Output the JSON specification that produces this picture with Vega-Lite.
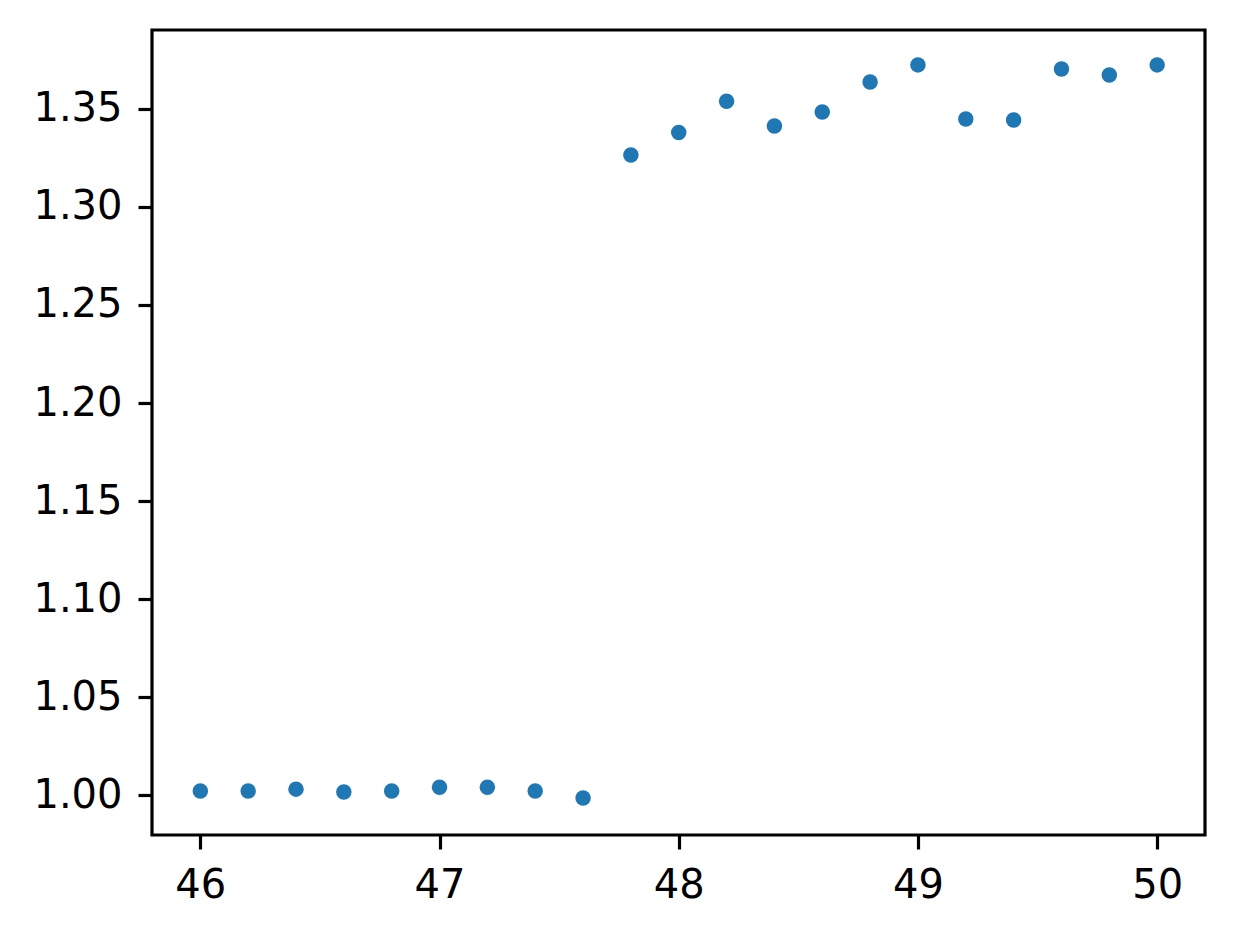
{
  "$schema": "https://vega.github.io/schema/vega-lite/v6.json",
  "autosize": "none",
  "padding": {"left": 152, "top": 30, "right": 29, "bottom": 99},
  "width": 1053,
  "height": 805,
  "background": "white",
  "config": {
    "view": {"stroke": "black", "strokeWidth": 3.2},
    "axis": {
      "domain": false,
      "grid": false,
      "ticks": true,
      "tickSize": 14,
      "tickWidth": 3.2,
      "tickColor": "black",
      "labelFont": "DejaVu Sans",
      "labelFontSize": 40,
      "labelColor": "black",
      "title": null
    }
  },
  "data": {
    "values": [
      {"x": 46.0, "y": 1.002},
      {"x": 46.2, "y": 1.002},
      {"x": 46.4, "y": 1.003},
      {"x": 46.6, "y": 1.0015},
      {"x": 46.8, "y": 1.002},
      {"x": 47.0, "y": 1.004},
      {"x": 47.2, "y": 1.004},
      {"x": 47.4, "y": 1.002},
      {"x": 47.6, "y": 0.9985},
      {"x": 47.8, "y": 1.3265},
      {"x": 48.0, "y": 1.338},
      {"x": 48.2, "y": 1.354},
      {"x": 48.4, "y": 1.3413},
      {"x": 48.6, "y": 1.3485},
      {"x": 48.8, "y": 1.3638},
      {"x": 49.0, "y": 1.3725},
      {"x": 49.2, "y": 1.3449},
      {"x": 49.4, "y": 1.3444},
      {"x": 49.6, "y": 1.3704},
      {"x": 49.8, "y": 1.3673},
      {"x": 50.0, "y": 1.3725}
    ]
  },
  "mark": {"type": "circle", "size": 240, "color": "#1f77b4", "opacity": 1},
  "encoding": {
    "x": {
      "field": "x",
      "type": "quantitative",
      "scale": {"domain": [45.798, 50.2], "nice": false, "zero": false},
      "axis": {"values": [46, 47, 48, 49, 50], "format": "d", "labelPadding": 16, "title": null}
    },
    "y": {
      "field": "y",
      "type": "quantitative",
      "scale": {"domain": [0.9796, 1.3903], "nice": false, "zero": false},
      "axis": {"values": [1.0, 1.05, 1.1, 1.15, 1.2, 1.25, 1.3, 1.35], "format": ".2f", "labelPadding": 16, "title": null}
    }
  }
}
